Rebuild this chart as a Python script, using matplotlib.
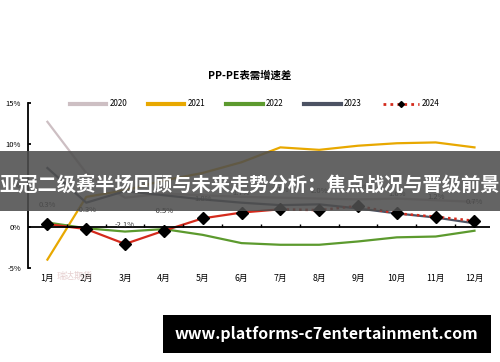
import numpy as np
import matplotlib
matplotlib.use('Agg')
import matplotlib.pyplot as plt
from matplotlib.patches import Rectangle
from matplotlib.lines import Line2D

plt.rcParams['font.family'] = ['Noto Sans CJK SC', 'DejaVu Sans']

months = ['1月', '2月', '3月', '4月', '5月', '6月', '7月', '8月', '9月', '10月', '11月', '12月']
y2020 = [12.7, 6.5, 3.5, 4.0, 3.8, 3.6, 3.5, 3.4, 3.3, 3.4, 3.2, 3.0]
y2021 = [-4.0, 3.6, 4.4, 5.6, 6.5, 7.8, 9.6, 9.3, 9.8, 10.1, 10.2, 9.6]
y2022 = [0.5, -0.2, -0.6, -0.3, -1.0, -2.0, -2.2, -2.2, -1.8, -1.3, -1.2, -0.5]
y2023 = [7.1, 2.9, 4.3, 3.8, 3.3, 2.9, 2.6, 2.7, 2.2, 1.6, 1.1, 0.4]
y2024 = [0.3, -0.3, -2.1, -0.5, 1.0, 1.7, 2.1, 2.0, 2.5, 1.6, 1.2, 0.7]
labels2024 = ['0.3%', '-0.3%', '-2.1%', '-0.5%', '1.0%', '1.7%', '2.1%', '2.0%', '2.5%', '1.6%', '1.2%', '0.7%']

c2020 = '#cdbfc3'
c2021 = '#e8a800'
c2022 = '#5c9a2e'
c2023 = '#4c5263'
c2024 = '#d42a1c'

fig = plt.figure(figsize=(5, 3.62), dpi=100)
ax = fig.add_axes([0.056, 0.26, 0.924, 0.456])
x = np.arange(1, 13)

ax.plot(x, y2020, color=c2020, lw=1.6)
ax.plot(x, y2021, color=c2021, lw=1.6)
ax.plot(x, y2022, color=c2022, lw=1.6)
ax.plot(x, y2023, color=c2023, lw=1.6)
ax.plot(x[:7], y2024[:7], color=c2024, lw=1.6)
ax.plot(x[6:], y2024[6:], color=c2024, lw=1.8, ls=(0, (1, 1.5)))
ax.plot(x, y2024, ls='none', marker='D', ms=6, color='black')

for xi, yi, lab in zip(x, y2024, labels2024):
    ax.annotate(lab, (xi, yi), xytext=(0, 11), textcoords='offset points',
                ha='center', va='bottom', fontsize=5.5, color='#333333')

ax.set_xlim(0.5, 12.4)
ax.set_ylim(-5, 15)
ax.axhline(0, color='black', lw=1.3)
ax.vlines(np.arange(1.5, 12.5), 0, 0.3, color='black', lw=1)

for s in ['top', 'right', 'bottom']:
    ax.spines[s].set_visible(False)
ax.spines['left'].set_linewidth(1.3)
ax.set_yticks([-5, 0, 5, 10, 15])
ax.set_yticklabels(['-5%', '0%', '5%', '10%', '15%'], fontsize=5.5)
ax.tick_params(axis='y', direction='in', length=2, width=1.3, pad=5)
ax.set_xticks(x)
ax.set_xticklabels(months, fontsize=6.3)
ax.tick_params(axis='x', length=0, pad=4.5)

fig.text(0.5, 0.79, 'PP-PE表需增速差', ha='center', va='center', fontsize=7.5, fontweight='bold')

handles = [Line2D([], [], color=c2020, lw=3),
           Line2D([], [], color=c2021, lw=3),
           Line2D([], [], color=c2022, lw=3),
           Line2D([], [], color=c2023, lw=3),
           Line2D([], [], color=c2024, lw=2, ls=(0, (1, 1.5)), marker='D', ms=3,
                  mfc='black', mec='black')]
fig.legend(handles, ['2020', '2021', '2022', '2023', '2024'], loc='center',
           bbox_to_anchor=(0.51, 0.713), ncol=5, frameon=False, fontsize=5.8,
           handlelength=4.5, columnspacing=2.6, handletextpad=0.4)

fig.text(0.15, 0.237, '瑞达期货', ha='center', va='center', fontsize=6.5, color='#e0c4c4', alpha=0.8)

fig.patches.append(Rectangle((0, 0.417), 1, 0.166, transform=fig.transFigure,
                             facecolor='#4e4e4e', alpha=0.88, zorder=5))
fig.text(0.5, 0.489, '亚冠二级赛半场回顾与未来走势分析：焦点战况与晋级前景', ha='center', va='center',
         fontsize=13.9, fontweight='bold', color='white', zorder=6)

fig.patches.append(Rectangle((0.326, 0.025), 0.656, 0.105, transform=fig.transFigure,
                             facecolor='black', zorder=5))
fig.text(0.652, 0.077, 'www.platforms-c7entertainment.com', ha='center', va='center',
         fontsize=11.5, fontweight='bold', color='white', zorder=6)

fig.savefig('out.png', dpi=100)
